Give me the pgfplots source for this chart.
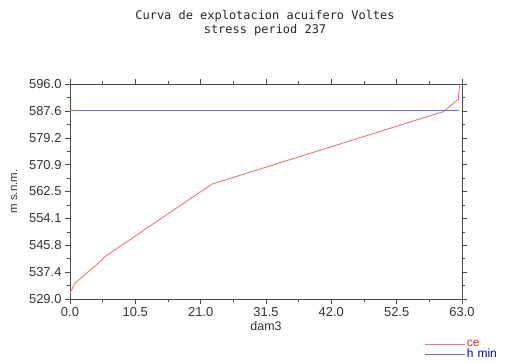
\documentclass[border=0pt]{standalone}
\usepackage{pgfplots}
\pgfplotsset{compat=1.18}
\usepackage{fontspec}
\setmainfont{Liberation Sans}
\newfontfamily\titlefont{DejaVu Sans Mono}
\definecolor{cered}{rgb}{0.95,0.45,0.48}
\definecolor{minblue}{rgb}{0.42,0.42,1.0}
\begin{document}
\begin{tikzpicture}[x=1bp,y=1bp]
\useasboundingbox (0,0) rectangle (510,362);
\node[font=\titlefont\fontsize{12}{13.5}\selectfont, align=center, text=black!85] at (265,339) {Curva de explotacion acuifero Voltes\\stress period 237};
\begin{axis}[
  at={(70bp,63bp)}, anchor=south west,
  width=392bp, height=215bp, scale only axis,
  xmin=0, xmax=63, ymin=529, ymax=596,
  xtick={0,10.5,21,31.5,42,52.5,63},
  xticklabels={0.0,10.5,21.0,31.5,42.0,52.5,63.0},
  ytick={529,537.375,545.75,554.125,562.5,570.875,579.25,587.625,596},
  yticklabels={529.0,537.4,545.8,554.1,562.5,570.9,579.2,587.6,596.0},
  minor x tick num=1, minor y tick num=1,
  tick align=outside,
  major tick length=5bp, minor tick length=3bp,
  axis line style={black!70}, every tick/.style={black!70},
  tick label style={font=\fontsize{13}{14}\selectfont, text=black!80},
  /pgf/number format/assume math mode=true,
  xlabel={dam3}, ylabel={m s.n.m.},
  xlabel style={font=\fontsize{12.5}{14}\selectfont, yshift=2bp, text=black!80},
  ylabel style={font=\fontsize{11.5}{13}\selectfont, yshift=5bp, text=black!80},
  legend style={at={(rel axis cs:1,0)}, anchor=north east, xshift=36bp, yshift=-40bp,
    draw=none, fill=none, font=\fontsize{12}{12}\selectfont, row sep=-1bp,
    inner sep=0pt, nodes={inner sep=1pt},
    legend cell align=left},
  clip=false,
]
\addplot[color=cered, line width=0.9pt, legend image code/.code={\draw[color=cered, line width=0.9pt] (0bp,0bp) -- (40bp,0bp);}] coordinates {
(0,530.9) (0.8,533.9) (4.8,540.6) (5.6,542.2) (22.8,564.8) (60.0,587.4) (62.4,591.2) (62.6,595.5)
};
\addlegendentry{\textcolor{red!85!white}{ce}}
\addplot[color=minblue, line width=0.8pt, legend image code/.code={\draw[color=minblue, line width=0.8pt] (0bp,0bp) -- (40bp,0bp);}] coordinates {(0,587.625) (62.5,587.625)};
\addlegendentry{\textcolor{blue!75!black}{h\,\,min}}
\end{axis}
\end{tikzpicture}
\end{document}
